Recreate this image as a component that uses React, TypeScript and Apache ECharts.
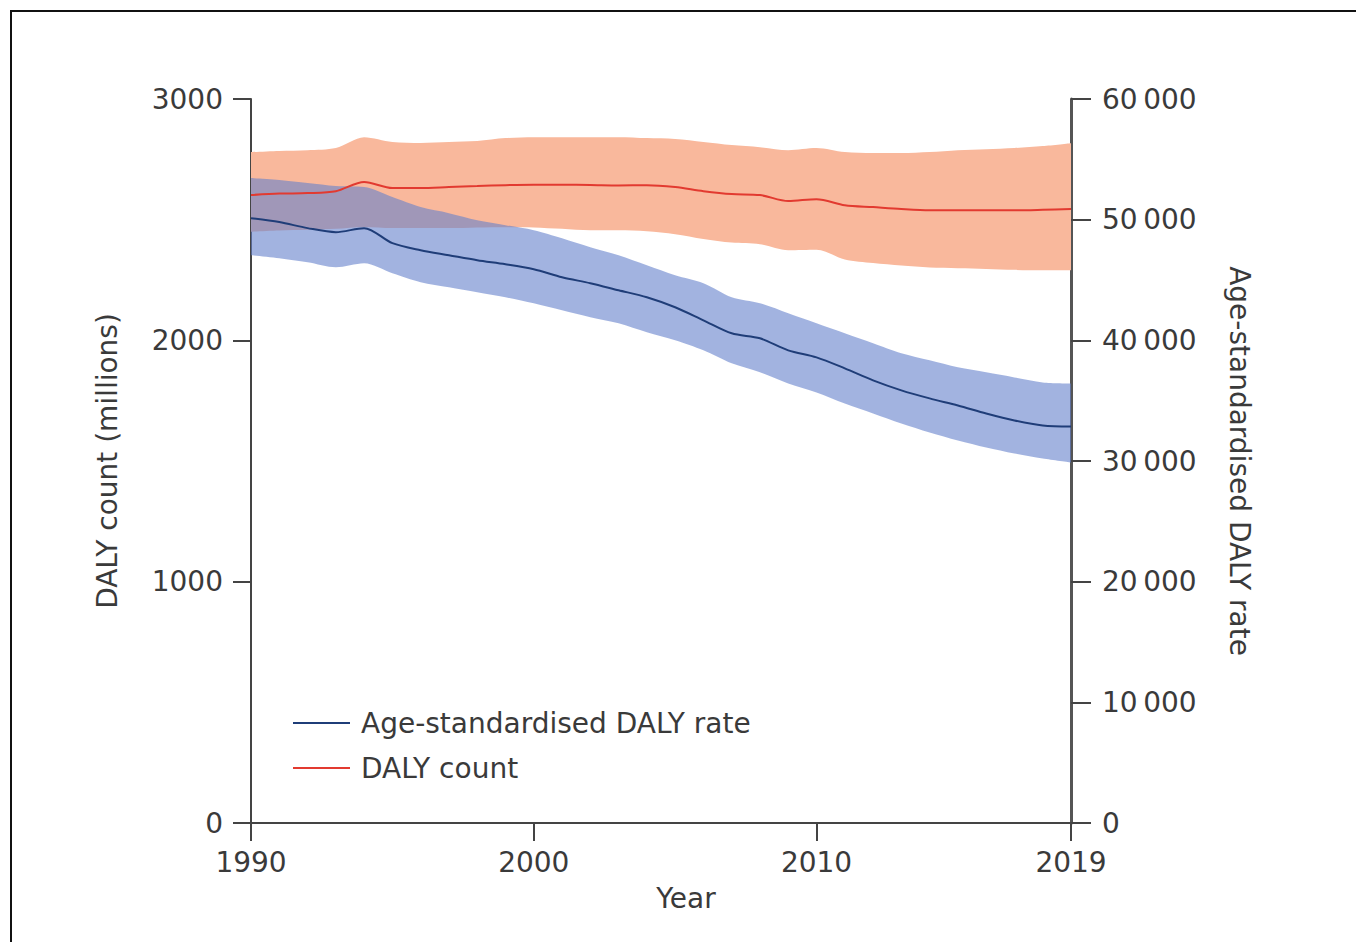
import React, { useEffect, useRef } from "react";
import * as echarts from "echarts";

const years = [
  "1990", "1991", "1992", "1993", "1994", "1995", "1996", "1997", "1998", "1999",
  "2000", "2001", "2002", "2003", "2004", "2005", "2006", "2007", "2008", "2009",
  "2010", "2011", "2012", "2013", "2014", "2015", "2016", "2017", "2018", "2019",
];
const labelYears = ["1990", "2000", "2010", "2019"];

// DALY count (millions), left axis
const countMean = [
  2602, 2608, 2610, 2618, 2656, 2631, 2631, 2635, 2639, 2643,
  2645, 2645, 2644, 2642, 2643, 2635, 2618, 2606, 2602, 2577,
  2585, 2560, 2552, 2544, 2539, 2539, 2539, 2539, 2541, 2544,
];
const countUpper = [
  2780, 2785, 2788, 2797, 2842, 2822, 2818, 2822, 2826, 2838,
  2842, 2842, 2842, 2842, 2838, 2834, 2822, 2809, 2800, 2788,
  2797, 2780, 2776, 2776, 2780, 2788, 2792, 2797, 2805, 2817,
];
const countLower = [
  2450, 2455, 2458, 2462, 2470, 2465, 2465, 2465, 2468, 2469,
  2468, 2462, 2456, 2456, 2452, 2440, 2420, 2405, 2398, 2373,
  2375, 2335, 2320, 2310, 2302, 2299, 2296, 2292, 2290, 2290,
];

// Age-standardised DALY rate (per 100 000), right axis
const rateMean = [
  50125, 49800, 49300, 48964, 49296, 48051, 47470, 47055, 46640, 46308,
  45894, 45230, 44732, 44150, 43570, 42740, 41661, 40582, 40167, 39171,
  38590, 37677, 36681, 35852, 35188, 34607, 33943, 33362, 32947, 32864,
];
const rateUpper = [
  53445, 53280, 53030, 52780, 52700, 51870, 51040, 50540, 49960, 49545,
  49130, 48466, 47720, 47055, 46225, 45395, 44732, 43570, 43072, 42242,
  41412, 40582, 39752, 38922, 38341, 37760, 37345, 36930, 36515, 36432,
];
const rateLower = [
  47055, 46806, 46474, 46059, 46391, 45561, 44815, 44400, 43985, 43570,
  43072, 42490, 41910, 41412, 40665, 40000, 39171, 38092, 37345, 36432,
  35686, 34773, 33943, 33113, 32366, 31702, 31121, 30623, 30208, 29876,
];

const FONT = "DejaVu Sans";
const TEXT = "#3a3a3a";

export default function App() {
  const ref = useRef<HTMLDivElement>(null);

  useEffect(() => {
    if (!ref.current) return;
    const chart = echarts.init(ref.current, null, { renderer: "svg" });
    const showYear = (_i: number, v: string) => labelYears.includes(String(v));
    const countBand = countUpper.map((u, i) => u - countLower[i]);
    const rateBand = rateUpper.map((u, i) => u - rateLower[i]);
    const fmtThin = (v: number) =>
      String(v).replace(/\B(?=(\d{3})+(?!\d))/g, "\u2009");

    chart.setOption({
      animation: false,
      backgroundColor: "#ffffff",
      textStyle: { fontFamily: FONT, color: TEXT },
      graphic: [
        {
          type: "rect",
          shape: { x: 11, y: 11, width: 1400, height: 1000 },
          style: { fill: "none", stroke: "#111", lineWidth: 2 },
          silent: true,
          z: -10,
        },
      ],
      legend: {
        data: ["Age-standardised DALY rate", "DALY count"],
        orient: "vertical",
        left: 293,
        top: 708,
        padding: 0,
        icon: "rect",
        itemWidth: 57,
        itemHeight: 2,
        itemGap: 15,
        textStyle: {
          fontFamily: FONT,
          fontSize: 28,
          color: TEXT,
          lineHeight: 30,
          padding: [0, 0, 0, 6],
        },
      },
      grid: { left: 251, right: 285, top: 99, bottom: 119, containLabel: false },
      xAxis: {
        type: "category",
        data: years,
        boundaryGap: false,
        name: "Year",
        nameLocation: "middle",
        nameGap: 61,
        nameTextStyle: { fontFamily: FONT, fontSize: 28, color: TEXT, padding: [0, 0, 0, 50] },
        axisLine: { lineStyle: { color: "#444", width: 2 } },
        axisTick: { interval: showYear, length: 18, lineStyle: { color: "#444", width: 2 } },
        axisLabel: {
          interval: showYear,
          fontFamily: FONT,
          fontSize: 28,
          color: TEXT,
          margin: 25,
        },
        splitLine: { show: false },
      },
      yAxis: [
        {
          type: "value",
          min: 0,
          max: 3000,
          interval: 1000,
          position: "left",
          name: "DALY count (millions)",
          nameLocation: "middle",
          nameGap: 130,
          nameTextStyle: { fontFamily: FONT, fontSize: 28, color: TEXT },
          axisLine: { show: true, lineStyle: { color: "#444", width: 2 } },
          axisTick: { show: true, length: 18, lineStyle: { color: "#444", width: 2 } },
          axisLabel: {
            fontFamily: FONT,
            fontSize: 28,
            color: TEXT,
            margin: 28,
            formatter: (v: number) => String(v),
          },
          splitLine: { show: false },
        },
        {
          type: "value",
          min: 0,
          max: 60000,
          interval: 10000,
          position: "right",
          name: "Age-standardised DALY rate",
          nameLocation: "middle",
          nameRotate: -90,
          nameGap: 154,
          nameTextStyle: { fontFamily: FONT, fontSize: 28, color: TEXT },
          axisLine: { show: true, lineStyle: { color: "#555", width: 3 } },
          axisTick: { show: true, length: 20, lineStyle: { color: "#444", width: 2 } },
          axisLabel: {
            fontFamily: FONT,
            fontSize: 28,
            color: TEXT,
            margin: 31,
            formatter: fmtThin,
          },
          splitLine: { show: false },
        },
      ],
      series: [
        {
          name: "countLowerBase",
          type: "line",
          yAxisIndex: 0,
          stack: "count",
          data: countLower,
          symbol: "none",
          smooth: 0.3,
          lineStyle: { opacity: 0 },
          silent: true,
          z: 1,
        },
        {
          name: "countBand",
          type: "line",
          yAxisIndex: 0,
          stack: "count",
          data: countBand,
          symbol: "none",
          smooth: 0.3,
          lineStyle: { opacity: 0 },
          areaStyle: { color: "#f9b89c", opacity: 1 },
          silent: true,
          z: 1,
        },
        {
          name: "rateLowerBase",
          type: "line",
          yAxisIndex: 1,
          stack: "rate",
          data: rateLower,
          symbol: "none",
          smooth: 0.3,
          lineStyle: { opacity: 0 },
          silent: true,
          z: 2,
        },
        {
          name: "rateBand",
          type: "line",
          yAxisIndex: 1,
          stack: "rate",
          data: rateBand,
          symbol: "none",
          smooth: 0.3,
          lineStyle: { opacity: 0 },
          areaStyle: { color: "rgba(100,128,204,0.6)", opacity: 1 },
          silent: true,
          z: 2,
        },
        {
          name: "DALY count",
          type: "line",
          yAxisIndex: 0,
          data: countMean,
          symbol: "none",
          smooth: 0.3,
          color: "#e23a30",
          lineStyle: { color: "#e23a30", width: 2 },
          z: 5,
        },
        {
          name: "Age-standardised DALY rate",
          type: "line",
          yAxisIndex: 1,
          data: rateMean,
          symbol: "none",
          smooth: 0.3,
          color: "#1f3d78",
          lineStyle: { color: "#1f3d78", width: 2 },
          z: 5,
        },
      ],
    });

    return () => chart.dispose();
  }, []);

  return (
    <div
      ref={ref}
      style={{ position: "absolute", left: 0, top: 0, width: 1356, height: 942 }}
    />
  );
}
